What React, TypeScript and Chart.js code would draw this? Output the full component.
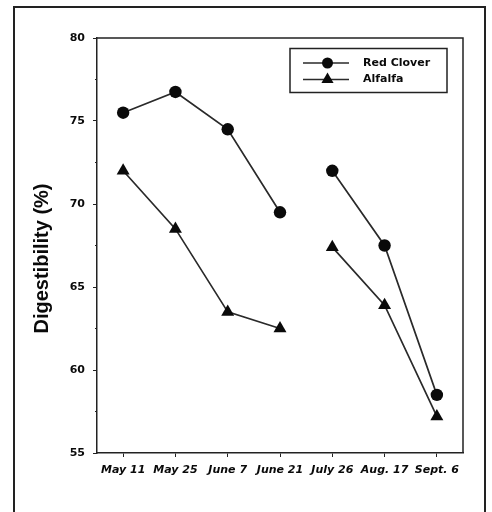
import { useEffect, useRef } from "react";
import { Chart, registerables } from "chart.js";

Chart.register(...registerables);

const categories = ["May 11", "May 25", "June 7", "June 21", "July 26", "Aug. 17", "Sept. 6"];
const redClover = [75.5, 76.75, 74.5, 69.5, 72.0, 67.5, 58.5];
const alfalfa = [72.0, 68.5, 63.5, 62.5, 67.4, 63.9, 57.2];
const seriesNames = ["Red Clover", "Alfalfa"];
const yTitle = "Digestibility (%)";
const yMin = 55;
const yMax = 80;
const yStep = 5;
const yMinorStep = 2.5;
const gapAfterIndex = 3;

const LINE = "#2a2a2a";
const INK = "#0a0a0a";

const decorPlugin = {
  id: "decor",
  beforeDraw(chart: any) {
    const ctx = chart.ctx;
    ctx.save();
    ctx.fillStyle = "#ffffff";
    ctx.fillRect(0, 0, chart.width, chart.height);
    ctx.strokeStyle = "#222";
    ctx.lineWidth = 2;
    ctx.beginPath();
    ctx.moveTo(14, chart.height + 2);
    ctx.lineTo(14, 7);
    ctx.lineTo(485, 7);
    ctx.lineTo(485, chart.height + 2);
    ctx.stroke();
    ctx.restore();
  },
  afterDraw(chart: any) {
    const ctx = chart.ctx;
    const ca = chart.chartArea;
    const y = chart.scales.y;
    ctx.save();
    // top and right border of plot box
    ctx.strokeStyle = "#222";
    ctx.lineWidth = 1.5;
    ctx.beginPath();
    ctx.moveTo(ca.left, ca.top);
    ctx.lineTo(ca.right, ca.top);
    ctx.lineTo(ca.right, ca.bottom);
    ctx.stroke();
    // minor ticks
    ctx.lineWidth = 1;
    for (let v = yMin + yMinorStep; v < yMax; v += yStep) {
      const py = y.getPixelForValue(v);
      ctx.beginPath();
      ctx.moveTo(ca.left - 2, py);
      ctx.lineTo(ca.left, py);
      ctx.stroke();
    }
    // y title
    ctx.fillStyle = INK;
    ctx.font = "bold 20px 'Liberation Sans', Arial, sans-serif";
    ctx.textAlign = "center";
    ctx.textBaseline = "middle";
    ctx.translate(42, (ca.top + ca.bottom) / 2 + 13);
    ctx.rotate(-Math.PI / 2);
    ctx.fillText(yTitle, 0, 0);
    ctx.restore();

    // legend
    ctx.save();
    const bx = ca.right - 173;
    const by = ca.top + 10.5;
    const bw = 157;
    const bh = 44;
    ctx.fillStyle = "#fff";
    ctx.fillRect(bx, by, bw, bh);
    ctx.strokeStyle = "#222";
    ctx.lineWidth = 1.5;
    ctx.strokeRect(bx, by, bw, bh);
    const rows = [by + 14.5, by + 31];
    const lx0 = bx + 13;
    const lx1 = bx + 59;
    const mx = bx + 37.5;
    rows.forEach((ry, i) => {
      ctx.strokeStyle = LINE;
      ctx.lineWidth = 1.7;
      ctx.beginPath();
      ctx.moveTo(lx0, ry);
      ctx.lineTo(lx1, ry);
      ctx.stroke();
      ctx.fillStyle = INK;
      ctx.beginPath();
      if (i === 0) {
        ctx.arc(mx, ry, 5.5, 0, Math.PI * 2);
      } else {
        const r = 7;
        ctx.moveTo(mx, ry - r);
        ctx.lineTo(mx + r * 0.866, ry + r * 0.5);
        ctx.lineTo(mx - r * 0.866, ry + r * 0.5);
        ctx.closePath();
      }
      ctx.fill();
      ctx.fillStyle = INK;
      ctx.font = "bold 11px 'DejaVu Sans', sans-serif";
      ctx.textAlign = "left";
      ctx.textBaseline = "middle";
      ctx.fillText(seriesNames[i], bx + 73, ry);
    });
    ctx.restore();
  },
};

export default function App() {
  const ref = useRef<HTMLCanvasElement | null>(null);
  useEffect(() => {
    if (!ref.current) return;
    const segColor = (c: any) => (c.p0DataIndex === gapAfterIndex ? "rgba(0,0,0,0)" : LINE);
    const chart = new Chart(ref.current, {
      type: "line",
      data: {
        labels: categories,
        datasets: [
          {
            label: seriesNames[0],
            data: redClover,
            borderColor: LINE,
            borderWidth: 1.7,
            pointStyle: "circle",
            pointRadius: 6.2,
            pointBackgroundColor: INK,
            pointBorderColor: INK,
            pointBorderWidth: 0,
            segment: { borderColor: segColor },
          },
          {
            label: seriesNames[1],
            data: alfalfa,
            borderColor: LINE,
            borderWidth: 1.7,
            pointStyle: "triangle",
            pointRadius: 7.5,
            pointBackgroundColor: INK,
            pointBorderColor: INK,
            pointBorderWidth: 0,
            segment: { borderColor: segColor },
          },
        ],
      },
      options: {
        animation: false,
        responsive: false,
        maintainAspectRatio: false,
        layout: { padding: { top: 38, right: 29, left: 0, bottom: 0 } },
        plugins: {
          legend: { display: false },
          tooltip: { enabled: false },
        },
        scales: {
          x: {
            type: "category",
            offset: true,
            afterFit: (s: any) => {
              s.height = 59;
            },
            grid: {
              drawOnChartArea: false,
              drawTicks: true,
              tickLength: 4,
              tickColor: "#222",
              tickWidth: 1,
            },
            border: { display: true, color: "#222", width: 1.5 },
            ticks: {
              color: INK,
              padding: 7,
              maxRotation: 0,
              autoSkip: false,
              font: { family: "'DejaVu Sans', sans-serif", size: 11, weight: "bold", style: "italic" },
            },
          },
          y: {
            min: yMin,
            max: yMax,
            afterFit: (s: any) => {
              s.width = 97;
            },
            grid: {
              drawOnChartArea: false,
              drawTicks: true,
              tickLength: 4,
              tickColor: "#222",
              tickWidth: 1,
            },
            border: { display: true, color: "#222", width: 1.5 },
            ticks: {
              stepSize: yStep,
              color: INK,
              padding: 8,
              font: { family: "'DejaVu Sans', sans-serif", size: 11, weight: "bold" },
            },
          },
        },
      },
      plugins: [decorPlugin],
    });
    return () => chart.destroy();
  }, []);
  return (
    <div style={{ position: "absolute", left: 0, top: 0, width: 492, height: 512, background: "#fff" }}>
      <canvas ref={ref} width={492} height={512} style={{ display: "block", width: 492, height: 512 }} />
    </div>
  );
}
